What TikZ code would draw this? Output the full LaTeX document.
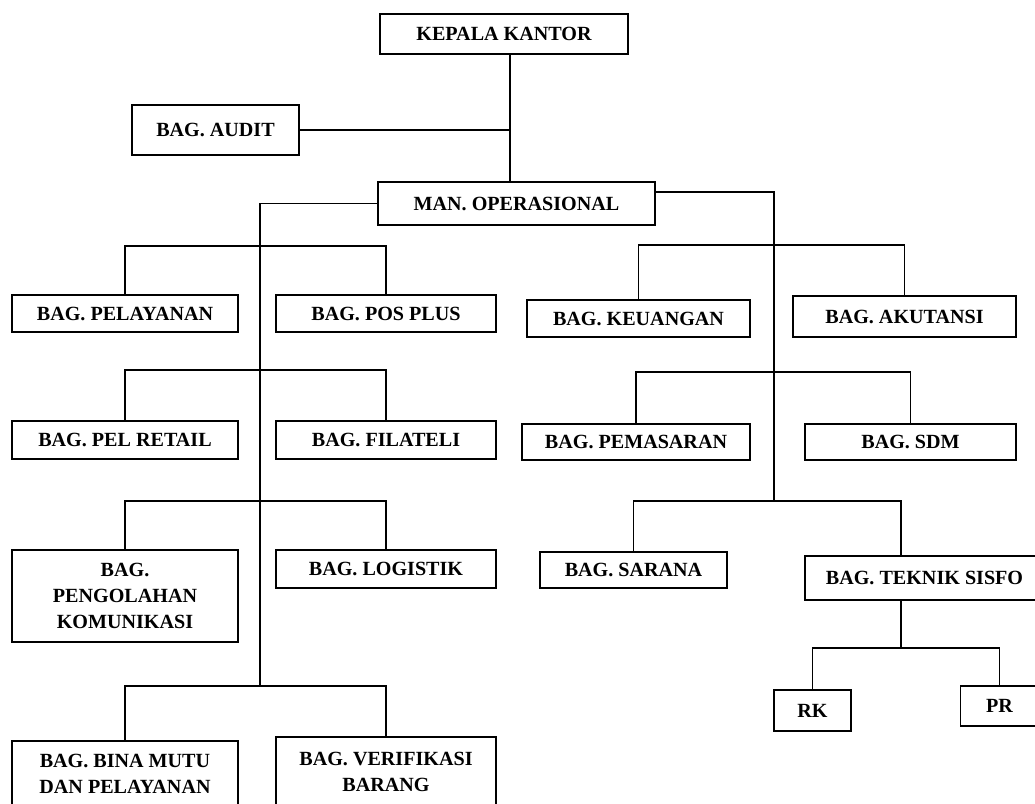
\documentclass[tikz,border=0pt]{standalone}
\usepackage{fontspec}
\setmainfont{Liberation Serif}
\usepackage{tikz}
\usetikzlibrary{positioning}
\tikzset{
  orgline/.style={line width=1.3pt},
  unitbox/.style={draw, line width=1.3pt, fill=white, inner sep=0pt, align=center,
    font=\fontsize{14.3}{18.5}\selectfont\bfseries},
}

\begin{document}
\begin{tikzpicture}[x=0.025cm, y=-0.025cm]
  \useasboundingbox (0,0) rectangle (1035,804);
  \clip (0,0) rectangle (1035,804);
  % spines
  \coordinate (spine) at (510,0);
  \coordinate (rtop) at (774,192);
  \coordinate (b1) at (260,246);
  \coordinate (b2) at (260,370);
  \coordinate (b3) at (260,501);
  \coordinate (b4) at (260,686);
  \coordinate (c1) at (774,245);
  \coordinate (c2) at (774,372);
  \coordinate (c3) at (774,501);
  \coordinate (sub) at (901,648);

  \node[unitbox, minimum width=6.2cm, minimum height=1.0cm] (kepala) at (504,34) {KEPALA KANTOR};
  \node[unitbox, minimum width=4.175cm, minimum height=1.25cm] (audit) at (215.5,130) {BAG. AUDIT};
  \node[unitbox, minimum width=6.925cm, minimum height=1.075cm] (manop) at (516.5,203.5) {MAN. OPERASIONAL};

  \node[unitbox, minimum width=5.65cm, minimum height=0.925cm] (pelayanan) at (125,313.5) {BAG. PELAYANAN};
  \node[unitbox, minimum width=5.5cm, minimum height=0.925cm] (posplus) at (386,313.5) {BAG. POS PLUS};
  \node[unitbox, minimum width=5.65cm, minimum height=0.95cm] (pelretail) at (125,440) {BAG. PEL RETAIL};
  \node[unitbox, minimum width=5.5cm, minimum height=0.95cm] (filateli) at (386,440) {BAG. FILATELI};
  \node[unitbox, minimum width=5.65cm, minimum height=2.3cm] (pengolahan) at (125,596) {BAG.\\PENGOLAHAN\\KOMUNIKASI};
  \node[unitbox, minimum width=5.5cm, minimum height=0.95cm] (logistik) at (386,569) {BAG. LOGISTIK};
  \node[unitbox, minimum width=5.65cm, minimum height=1.625cm] (binamutu) at (125,773.5) {BAG. BINA MUTU\\DAN PELAYANAN};
  \node[unitbox, minimum width=5.5cm, minimum height=1.75cm] (verifikasi) at (386,772) {BAG. VERIFIKASI\\BARANG};

  \node[unitbox, minimum width=5.575cm, minimum height=0.925cm] (keuangan) at (638.5,318.5) {BAG. KEUANGAN};
  \node[unitbox, minimum width=5.575cm, minimum height=1.025cm] (akutansi) at (904.5,316.5) {BAG. AKUTANSI};
  \node[unitbox, minimum width=5.7cm, minimum height=0.9cm] (pemasaran) at (636,442) {BAG. PEMASARAN};
  \node[unitbox, minimum width=5.275cm, minimum height=0.9cm] (sdm) at (910.5,442) {BAG. SDM};
  \node[unitbox, minimum width=4.675cm, minimum height=0.9cm] (sarana) at (633.5,570) {BAG. SARANA};
  \node[unitbox, minimum width=5.975cm, minimum height=1.1cm] (teknik) at (924.5,578) {BAG. TEKNIK SISFO};
  \node[unitbox, minimum width=1.925cm, minimum height=1.025cm] (rk) at (812.5,710.5) {RK};
  \node[unitbox, minimum width=1.95cm, minimum height=1.0cm] (pr) at (999.5,706) {PR};

  % top
  \draw[orgline] (kepala.south -| spine) -- (manop.north -| spine);
  \draw[orgline] (audit.east) -- (audit.east -| spine);
  % left side
  \draw[orgline] (manop.west) -| (b4);
  \draw[orgline] (pelayanan.north) |- (b1) -| (posplus.north);
  \draw[orgline] (pelretail.north) |- (b2) -| (filateli.north);
  \draw[orgline] (pengolahan.north) |- (b3) -| (logistik.north);
  \draw[orgline] (binamutu.north) |- (b4) -| (verifikasi.north);
  % right side
  \draw[orgline] (manop.east |- rtop) -- (rtop) -- (c3);
  \draw[orgline] (keuangan.north) |- (c1) -| (akutansi.north);
  \draw[orgline] (pemasaran.north) |- (c2) -| (sdm.north);
  \draw[orgline] (sarana.north) |- (c3) -| (teknik.north -| sub);
  \draw[orgline] (teknik.south -| sub) -- (sub);
  \draw[orgline] (rk.north) |- (sub) -| (pr.north);
\end{tikzpicture}
\end{document}
